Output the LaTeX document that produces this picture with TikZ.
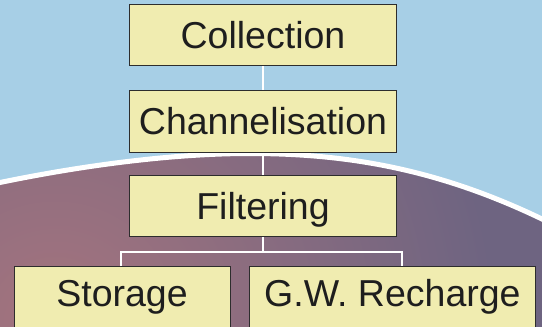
\documentclass[tikz,border=0pt]{standalone}
\usepackage{fontspec}
\setmainfont{Liberation Sans}
\definecolor{sky}{RGB}{167,207,230}
\definecolor{pinkc}{RGB}{165,116,126}
\definecolor{purp}{RGB}{110,100,129}
\definecolor{boxfill}{RGB}{240,236,176}
\definecolor{boxline}{RGB}{45,45,45}
\definecolor{txt}{RGB}{30,30,30}
\begin{document}
\begin{tikzpicture}[x=1pt,y=-1pt,
  stepbox/.style={draw=boxline,line width=1pt,fill=boxfill,rectangle,inner sep=0pt,text=txt,
    font=\fontsize{37.5}{40}\selectfont,text height=26.85pt,text depth=0pt},
  lowbox/.style={stepbox,text depth=7.9pt},
  conn/.style={draw=white,line width=2pt}]
\useasboundingbox (0,0) rectangle (542,327);
\fill[sky] (0,0) rectangle (542,327);
\def\arcpath{(-20,186.6) -- (0,182.5) .. controls (80,166) and (170,153.5) .. (250,153.5) .. controls (350,153.5) and (440,170) .. (542,219) -- (560,227.6)}
\begin{scope}
  \clip \arcpath -- (560,340) -- (-20,340) -- cycle;
  \fill[purp] (-20,140) rectangle (560,340);
  \shade[inner color=pinkc,outer color=purp] (55,325) circle (440pt);
\end{scope}
\draw[white,line width=5pt] \arcpath;
% nodes
\node[stepbox,minimum width=267.4pt,minimum height=61.3pt] (coll) at (263,34.7) {Collection};
\node[stepbox,minimum width=267.4pt,minimum height=61.6pt] (chan) at (263,121.5) {Channelisation};
\node[stepbox,minimum width=267.2pt,minimum height=61.3pt] (filt) at (263,205.7) {Filtering};
\node[lowbox,minimum width=216pt,minimum height=61.3pt] (stor) at (122,297.4) {Storage};
\node[lowbox,minimum width=286.8pt,minimum height=61.3pt] (gw) at (392.4,297.4) {G.W. Recharge};
% connectors
\coordinate (bl) at (120.5,252.3);
\coordinate (br) at (402.3,252.3);
\draw[conn] (coll.south) -- (chan.north);
\draw[conn] (chan.south) -- (filt.north);
\draw[conn] (filt.south) -- (filt.south |- bl);
\draw[conn] (bl |- stor.north) -- (bl) -- (br) -- (br |- gw.north);
\end{tikzpicture}
\end{document}
